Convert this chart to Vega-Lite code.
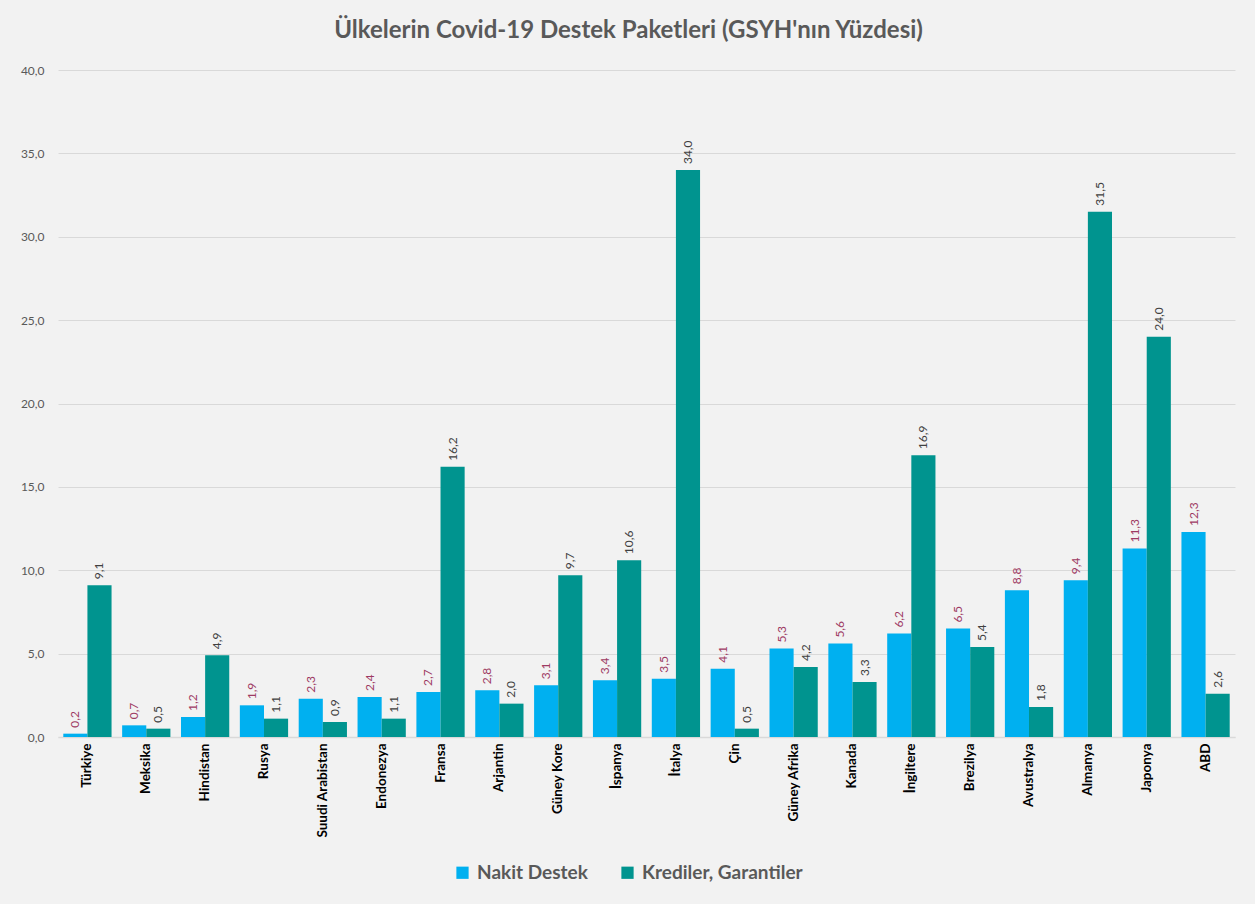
{
  "$schema": "https://vega.github.io/schema/vega-lite/v6.json",
  "width": 1177,
  "height": 667,
  "autosize": "none",
  "padding": {"left": 58, "top": 70, "right": 20, "bottom": 167},
  "background": "#f2f2f2",
  "title": {
    "text": "Ülkelerin Covid-19 Destek Paketleri (GSYH'nın Yüzdesi)",
    "fontSize": 24,
    "fontWeight": "bold",
    "color": "#595959",
    "font": "Lato",
    "offset": 21,
    "dx": -18
  },
  "config": {
    "locale": {"number": {"decimal": ",", "thousands": ".", "grouping": [3], "currency": ["", " TL"]}},
    "font": "Lato",
    "view": {"stroke": null}
  },
  "data": {
    "values": [
      {"country": "Türkiye", "series": "Nakit Destek", "value": 0.2},
      {"country": "Türkiye", "series": "Krediler, Garantiler", "value": 9.1},
      {"country": "Meksika", "series": "Nakit Destek", "value": 0.7},
      {"country": "Meksika", "series": "Krediler, Garantiler", "value": 0.5},
      {"country": "Hindistan", "series": "Nakit Destek", "value": 1.2},
      {"country": "Hindistan", "series": "Krediler, Garantiler", "value": 4.9},
      {"country": "Rusya", "series": "Nakit Destek", "value": 1.9},
      {"country": "Rusya", "series": "Krediler, Garantiler", "value": 1.1},
      {"country": "Suudi Arabistan", "series": "Nakit Destek", "value": 2.3},
      {"country": "Suudi Arabistan", "series": "Krediler, Garantiler", "value": 0.9},
      {"country": "Endonezya", "series": "Nakit Destek", "value": 2.4},
      {"country": "Endonezya", "series": "Krediler, Garantiler", "value": 1.1},
      {"country": "Fransa", "series": "Nakit Destek", "value": 2.7},
      {"country": "Fransa", "series": "Krediler, Garantiler", "value": 16.2},
      {"country": "Arjantin", "series": "Nakit Destek", "value": 2.8},
      {"country": "Arjantin", "series": "Krediler, Garantiler", "value": 2.0},
      {"country": "Güney Kore", "series": "Nakit Destek", "value": 3.1},
      {"country": "Güney Kore", "series": "Krediler, Garantiler", "value": 9.7},
      {"country": "İspanya", "series": "Nakit Destek", "value": 3.4},
      {"country": "İspanya", "series": "Krediler, Garantiler", "value": 10.6},
      {"country": "İtalya", "series": "Nakit Destek", "value": 3.5},
      {"country": "İtalya", "series": "Krediler, Garantiler", "value": 34.0},
      {"country": "Çin", "series": "Nakit Destek", "value": 4.1},
      {"country": "Çin", "series": "Krediler, Garantiler", "value": 0.5},
      {"country": "Güney Afrika", "series": "Nakit Destek", "value": 5.3},
      {"country": "Güney Afrika", "series": "Krediler, Garantiler", "value": 4.2},
      {"country": "Kanada", "series": "Nakit Destek", "value": 5.6},
      {"country": "Kanada", "series": "Krediler, Garantiler", "value": 3.3},
      {"country": "İngiltere", "series": "Nakit Destek", "value": 6.2},
      {"country": "İngiltere", "series": "Krediler, Garantiler", "value": 16.9},
      {"country": "Brezilya", "series": "Nakit Destek", "value": 6.5},
      {"country": "Brezilya", "series": "Krediler, Garantiler", "value": 5.4},
      {"country": "Avustralya", "series": "Nakit Destek", "value": 8.8},
      {"country": "Avustralya", "series": "Krediler, Garantiler", "value": 1.8},
      {"country": "Almanya", "series": "Nakit Destek", "value": 9.4},
      {"country": "Almanya", "series": "Krediler, Garantiler", "value": 31.5},
      {"country": "Japonya", "series": "Nakit Destek", "value": 11.3},
      {"country": "Japonya", "series": "Krediler, Garantiler", "value": 24.0},
      {"country": "ABD", "series": "Nakit Destek", "value": 12.3},
      {"country": "ABD", "series": "Krediler, Garantiler", "value": 2.6}
    ]
  },
  "encoding": {
    "x": {
      "field": "country",
      "type": "nominal",
      "sort": null,
      "scale": {"paddingInner": 0.18, "paddingOuter": 0.09},
      "axis": {
        "title": null,
        "labelAngle": -90,
        "labelFontSize": 13.5,
        "labelFontWeight": "bold",
        "labelColor": "#000000",
        "labelFont": "Lato",
        "labelPadding": 6,
        "ticks": false,
        "domainColor": "#d9d9d9",
        "domainWidth": 1.5
      }
    },
    "xOffset": {"field": "series", "type": "nominal", "sort": ["Nakit Destek", "Krediler, Garantiler"]},
    "y": {
      "field": "value",
      "type": "quantitative",
      "scale": {"domain": [0, 40], "nice": false},
      "axis": {
        "title": null,
        "values": [0, 5, 10, 15, 20, 25, 30, 35, 40],
        "format": ".1f",
        "labelFontSize": 12,
        "labelColor": "#595959",
        "labelPadding": 14,
        "ticks": false,
        "domain": false,
        "gridColor": "#d9d9d9",
        "gridWidth": 1.2
      }
    }
  },
  "layer": [
    {
      "mark": {"type": "bar"},
      "encoding": {
        "color": {
          "field": "series",
          "type": "nominal",
          "sort": ["Nakit Destek", "Krediler, Garantiler"],
          "scale": {"domain": ["Nakit Destek", "Krediler, Garantiler"], "range": ["#00b0f0", "#00948f"]},
          "legend": {
            "title": null,
            "orient": "none",
            "direction": "horizontal",
            "legendX": 395,
            "legendY": 793,
            "padding": 0,
            "symbolType": "square",
            "symbolSize": 150,
            "symbolStrokeWidth": 0,
            "labelFontSize": 19,
            "labelFontWeight": "bold",
            "labelColor": "#595959",
            "labelFont": "Lato",
            "labelLimit": 400,
            "columnPadding": 30,
            "labelOffset": 5
          }
        }
      }
    },
    {
      "mark": {"type": "text", "angle": -90, "align": "left", "baseline": "middle", "dx": 6, "fontSize": 12, "font": "Lato"},
      "encoding": {
        "text": {"field": "value", "type": "quantitative", "format": ".1f"},
        "color": {
          "condition": {"test": "datum.series === 'Nakit Destek'", "value": "#9e3a63"},
          "value": "#404040"
        }
      }
    }
  ]
}
